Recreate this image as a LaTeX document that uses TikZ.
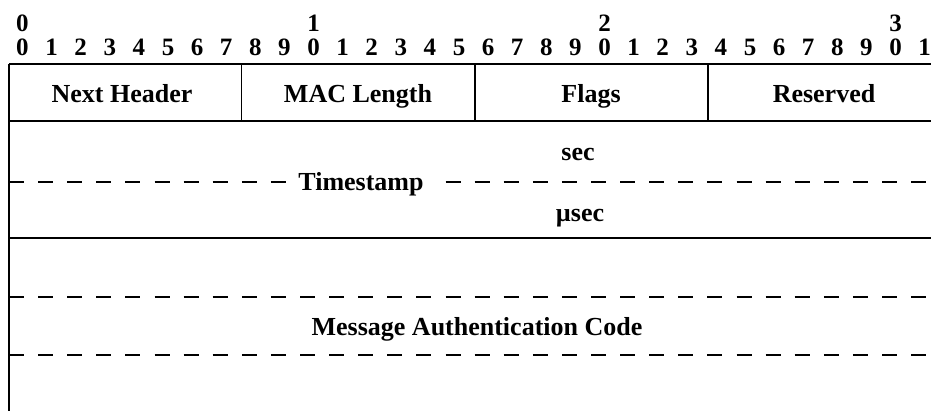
\documentclass[tikz,border=0pt]{standalone}
\usepackage{fontspec}
\setmainfont{Liberation Serif}

\begin{document}
\begin{tikzpicture}[x=1pt,y=-1pt,
  bit/.style={font=\bfseries\fontsize{25}{30}\selectfont, inner sep=0pt, anchor=base},
  field/.style={font=\bfseries\fontsize{26}{31}\selectfont, inner sep=0pt, anchor=base},
  rule/.style={line width=1.7pt},
  dashrule/.style={line width=1.7pt, dash pattern=on 15pt off 14.1pt}]
\useasboundingbox (0,0) rectangle (931,410);
\clip (0,0) rectangle (931,410);
% bit numbers
\foreach \t in {0,1,2,3}
  \node[bit] (tens\t) at (22.5+291*\t, 31) {\t};
\foreach \i [evaluate=\i as \d using {int(mod(\i,10))}] in {0,...,31}
  \node[bit] (bit\i) at (22.5+29.1*\i, 55) {\d};
% frame
\coordinate (nw) at (9,64);
\coordinate (sw) at (9,412);
\draw[rule] (nw) -- (sw);
\foreach \y in {64,121,238,412}
  \draw[rule] (9,\y) -- (941,\y);
\foreach \x in {241.6,474.8,708}
  \draw[rule] (\x,64) -- (\x,121);
\foreach \y in {182,297,355}
  \draw[dashrule] (9,\y) -- (941,\y);
% fields
\node[field] (nexthdr) at (122,102) {Next Header};
\node[field] (maclen) at (358,102) {MAC Length};
\node[field] (flags) at (591,102) {Flags};
\node[field] (resv) at (824,102) {Reserved};
\node[field] (sec) at (578,160) {sec};
\node[field, fill=white, inner xsep=12pt, inner ysep=4pt] (tstamp) at (361,190) {Timestamp};
\node[field] (usec) at (580,221) {µsec};
\node[field] (mac) at (477,335) {Message Authentication Code};
\end{tikzpicture}
\end{document}
